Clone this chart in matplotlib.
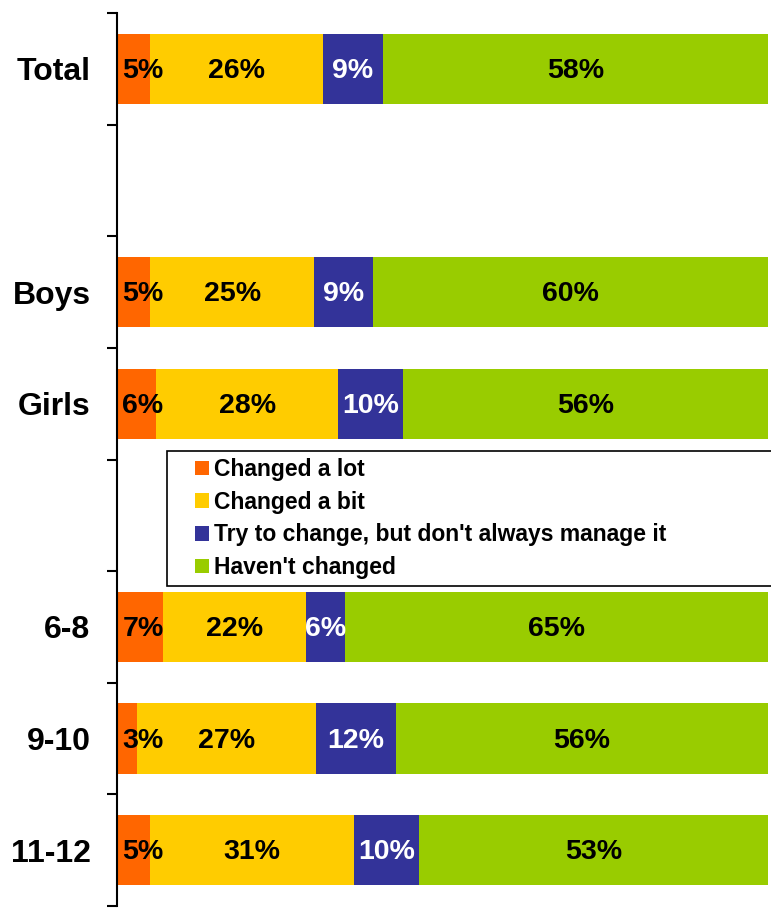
from matplotlib import pyplot as plt
from matplotlib.patches import Rectangle
import numpy as np

plt.rcParams['font.family'] = ['Liberation Sans', 'DejaVu Sans']
plt.rcParams['font.weight'] = 'bold'

# rows top to bottom, '' = empty spacer row
groups = ['Total', '', 'Boys', 'Girls', '', '6-8', '9-10', '11-12']
series = ['Changed a lot', 'Changed a bit',
          "Try to change, but don't always manage it", "Haven't changed"]
changed_lot = [5, 0, 5, 6, 0, 7, 3, 5]
changed_bit = [26, 0, 25, 28, 0, 22, 27, 31]
try_change = [9, 0, 9, 10, 0, 6, 12, 10]
not_changed = [58, 0, 60, 56, 0, 65, 56, 53]
colors = ['#FF6600', '#FFCC00', '#333399', '#99CC00']
label_colors = ['black', 'black', 'white', 'black']

data = np.array([changed_lot, changed_bit, try_change, not_changed], dtype=float)
totals = data.sum(axis=0)
shares = np.divide(data, totals, out=np.zeros_like(data), where=totals > 0) * 100

W, H = 771, 908
fig = plt.figure(figsize=(W / 100, H / 100), dpi=100)
ax = fig.add_axes([117 / W, 2 / H, (768 - 117) / W, (906 - 13) / H])

y = np.arange(len(groups)) + 0.5
left = np.zeros(len(groups))
handles = []
for i in range(len(series)):
    bars = ax.barh(y, shares[i], left=left, height=0.63, color=colors[i], label=series[i])
    handles.append(bars)
    for j in range(len(groups)):
        if data[i, j] <= 0:
            continue
        # keep the label inside the plot area on the left, as the original does
        xc = max(left[j] + shares[i, j] / 2, 4.0)
        ax.text(xc, y[j] + 0.02, '%d%%' % data[i, j], ha='center', va='center',
                fontsize=20.5, fontweight='bold', color=label_colors[i])
    left += shares[i]

ax.set_xlim(0, 100)
ax.set_ylim(len(groups), 0)
ax.set_xticks([])
ax.set_yticks(np.arange(len(groups) + 1))
ax.set_yticklabels([])
ax.set_yticks(y, minor=True)
ax.set_yticklabels(groups, minor=True, fontsize=23, fontweight='bold')
ax.tick_params(axis='y', which='major', length=7, width=1.5, direction='out')
ax.tick_params(axis='y', which='minor', length=0, pad=19)
for s in ['top', 'right', 'bottom']:
    ax.spines[s].set_visible(False)
ax.spines['left'].set_linewidth(1.5)

# legend frame runs past the right edge of the picture
fig.patches.append(Rectangle((167 / W, 1 - 586 / H), (W + 10 - 167) / W, (586 - 451) / H,
                             transform=fig.transFigure, facecolor='white',
                             edgecolor='black', linewidth=1.2, zorder=5))
leg = fig.legend(handles, series, loc='center left',
                 bbox_to_anchor=(195 / W, 1 - 518.5 / H),
                 frameon=False, borderpad=0, borderaxespad=0,
                 handlelength=0.6, handleheight=0.6, handletextpad=0.25,
                 labelspacing=0.42, prop={'weight': 'bold', 'size': 16.5})
leg.set_zorder(6)

fig.savefig('out.png', dpi=100)
